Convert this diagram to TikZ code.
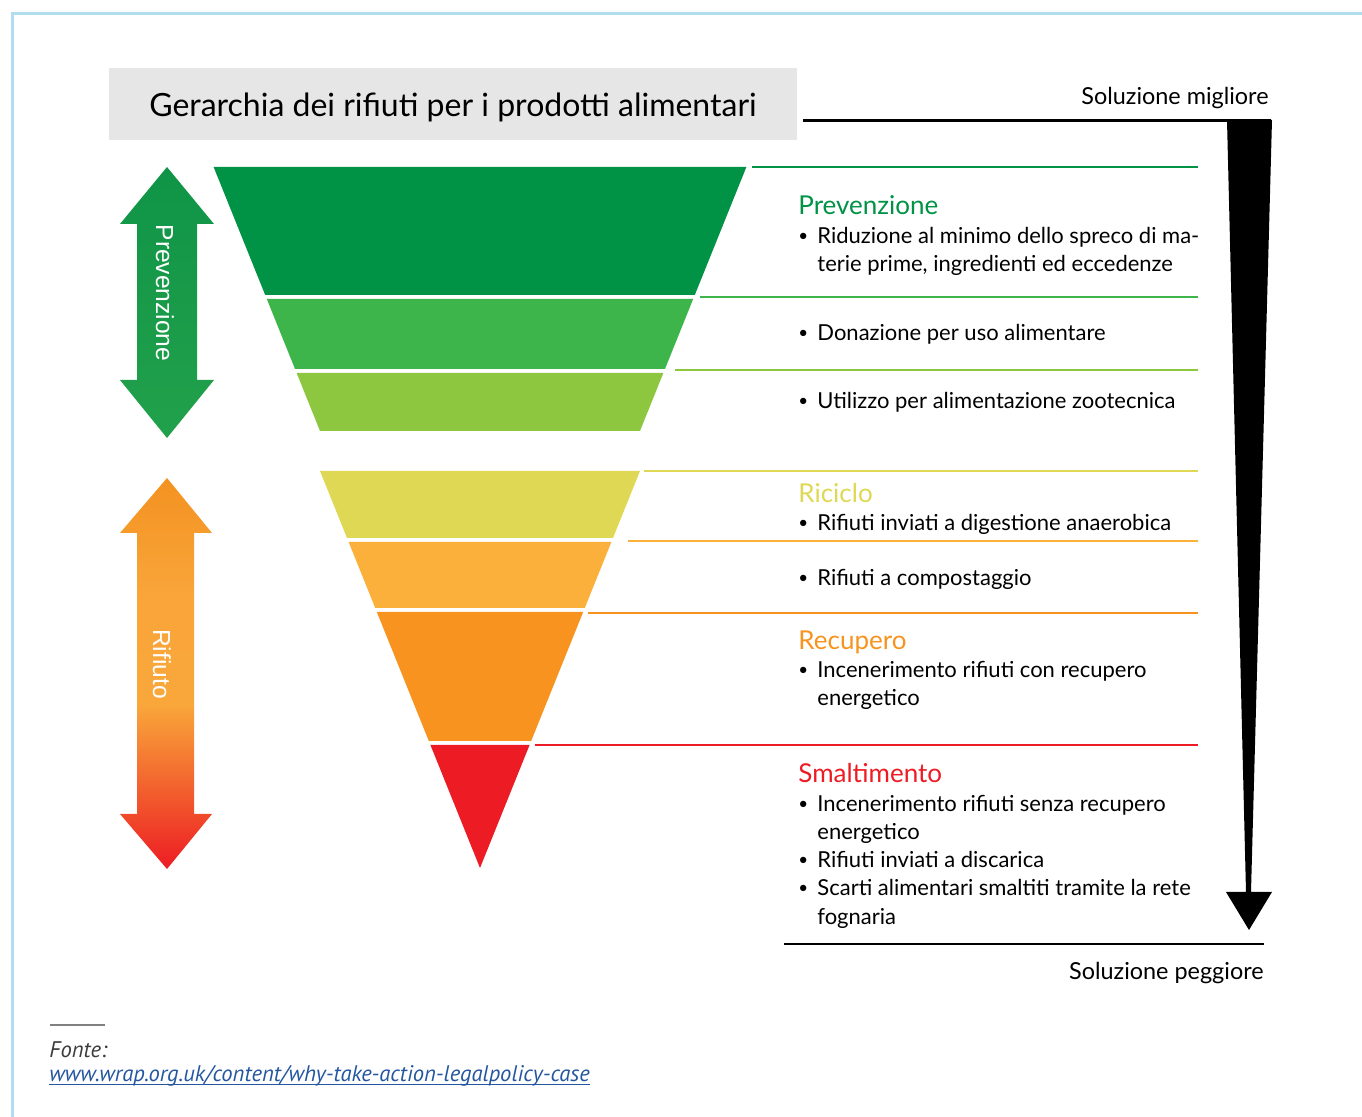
\documentclass[tikz,border=0pt]{standalone}
\usepackage{fontspec}
\setmainfont{Lato}
\newfontfamily\arwfont{Liberation Sans}
\newfontfamily\srcfont{PT Sans}
\usetikzlibrary{positioning}
\definecolor{prevDk}{HTML}{009245}
\definecolor{prevMd}{HTML}{3DB54A}
\definecolor{prevLt}{HTML}{8DC63F}
\definecolor{ricYel}{HTML}{DFD855}
\definecolor{ricOr}{HTML}{FBB03B}
\definecolor{recOr}{HTML}{F7931E}
\definecolor{smaRed}{HTML}{ED1C24}
\definecolor{arwTop}{HTML}{0F9447}
\definecolor{arwBot}{HTML}{22A14B}
\definecolor{frameBlue}{HTML}{B2DCF0}
\definecolor{titleGray}{HTML}{E6E6E6}
\definecolor{srcGray}{HTML}{3C3C3C}
\definecolor{urlBlue}{HTML}{2457A0}
\pgfdeclareverticalshading{rifgrad}{100bp}{rgb(0bp)=(0.929,0.110,0.141);
  rgb(25bp)=(0.929,0.110,0.141); rgb(33bp)=(0.945,0.320,0.170);
  rgb(46bp)=(0.976,0.651,0.227); rgb(60bp)=(0.976,0.647,0.227);
  rgb(75bp)=(0.953,0.573,0.129); rgb(100bp)=(0.953,0.573,0.129)}
\tikzset{
  sepline/.style = {line width=1pt},
  hdg/.style     = {anchor=base west, inner sep=0pt,
                    font=\fontsize{13}{15}\selectfont},
  btxt/.style    = {anchor=base west, inner sep=0pt,
                    font=\fontsize{11}{14}\selectfont},
  bdot/.style    = {anchor=base west, inner sep=0pt,
                    font=\fontsize{8.5}{10}\selectfont},
  arwlab/.style  = {rotate=-90, text=white, inner sep=0pt,
                    font=\arwfont\fontsize{12.3}{14}\selectfont},
  endlab/.style  = {anchor=base east, inner sep=0pt,
                    font=\fontsize{11.7}{14}\selectfont},
  srctxt/.style  = {anchor=base west, inner sep=0pt,
                    font=\srcfont\itshape\fontsize{11.3}{12}\selectfont},
}
% bullet with its text: name, baseline y of first line, lines
\newcommand\bitem[3]{%
  \node[bdot] (#1b) at (798,#2) {\raisebox{1.3pt}{\textbullet}};
  \node[btxt] (#1) at (817,#2) {\begin{tabular}[t]{@{}l@{}}#3\end{tabular}};}

\begin{document}
\begin{tikzpicture}[x=0.5pt, y=-0.5pt]
  \useasboundingbox (0,0) rectangle (1362,1117);
  % frame
  \draw[frameBlue, line width=1.5pt] (12,1117) -- (12,14) -- (1362,14);

  % title
  \fill[titleGray] (109,68) rectangle (797,140);
  \node[anchor=base, inner sep=0pt, font=\fontsize{16}{18}\selectfont]
    (title) at (453,117) {Gerarchia dei rifiuti per i prodotti alimentari};

  % funnel: top y / bottom y / shift / colour
  \foreach \ya/\yb/\o/\c in {167/295/40/prevDk, 299/369/40/prevMd,
                             373/431/40/prevLt, 471/538/0/ricYel,
                             542/608/0/ricOr, 612/741/0/recOr,
                             745/868/0/smaRed}{%
    \fill[\c] ({480-0.403*(868-\o-\ya)},\ya) -- ({480+0.403*(868-\o-\ya)},\ya)
      -- ({480+0.403*(868-\o-\yb)},\yb) -- ({480-0.403*(868-\o-\yb)},\yb) -- cycle;}

  % separators
  \foreach \y/\xs/\c in {167/752/prevDk, 297/700/prevMd, 370/675/prevLt,
                         471/644/ricYel, 541/628/ricOr, 613/588/recOr,
                         745/535/smaRed}
    \draw[sepline, \c] (\xs,\y) -- (1198,\y);

  % left double arrows
  \shade[top color=arwTop, bottom color=arwBot]
    (167,167) -- (214,224) -- (197,224) -- (197,380) -- (214,380) -- (167,438)
    -- (120,380) -- (137,380) -- (137,224) -- (120,224) -- cycle;
  \node[arwlab] (prevarw) at (165,293) {Prevenzione};
  \shade[shading=rifgrad]
    (167,478) -- (212,533) -- (194,533) -- (194,814) -- (212,814) -- (167,869)
    -- (120,814) -- (137,814) -- (137,533) -- (120,533) -- cycle;
  \node[arwlab] (rifarw) at (162,664) {Rifiuto};

  % best / worst scale
  \draw[line width=1.5pt] (803,121) -- (1271,121);
  \fill (1227,120) -- (1272,120) -- (1251,892) -- (1272,892) -- (1249,930)
    -- (1226,892) -- (1246,892) -- cycle;
  \draw[line width=1pt] (784,944) -- (1264,944);
  \node[endlab] (best) at (1269,105) {Soluzione migliore};
  \node[endlab] (worst) at (1264,979) {Soluzione peggiore};

  % texts
  \node[hdg, text=prevDk] (hprev) at (798,215) {Prevenzione};
  \bitem{t1}{244}{Riduzione al minimo dello spreco di ma-\\
    terie prime, ingredienti ed eccedenze}
  \bitem{t2}{341}{Donazione per uso alimentare}
  \bitem{t3}{409}{Utilizzo per alimentazione zootecnica}
  \node[hdg, text=ricYel] (hric) at (798,503) {Riciclo};
  \bitem{t4}{531}{Rifiuti inviati a digestione anaerobica}
  \bitem{t5}{586}{Rifiuti a compostaggio}
  \node[hdg, text=recOr] (hrec) at (798,650) {Recupero};
  \bitem{t6}{678}{Incenerimento rifiuti con recupero\\ energetico}
  \node[hdg, text=smaRed] (hsma) at (798,783) {Smaltimento};
  \bitem{t7}{812}{Incenerimento rifiuti senza recupero\\ energetico}
  \bitem{t8}{868}{Rifiuti inviati a discarica}
  \bitem{t9}{896}{Scarti alimentari smaltiti tramite la rete\\ fognaria}

  % source
  \draw[gray, line width=1pt] (50,1025) -- (105,1025);
  \node[srctxt, text=srcGray] (fonte) at (49,1057) {Fonte:};
  \node[srctxt, text=urlBlue] (url) at (49,1081)
    {www.wrap.org.uk/content/why-take-action-legalpolicy-case};
  \draw[urlBlue, line width=0.5pt] ([yshift=-1.6pt]url.base west)
    -- ([yshift=-1.6pt]url.base east);
\end{tikzpicture}
\end{document}
